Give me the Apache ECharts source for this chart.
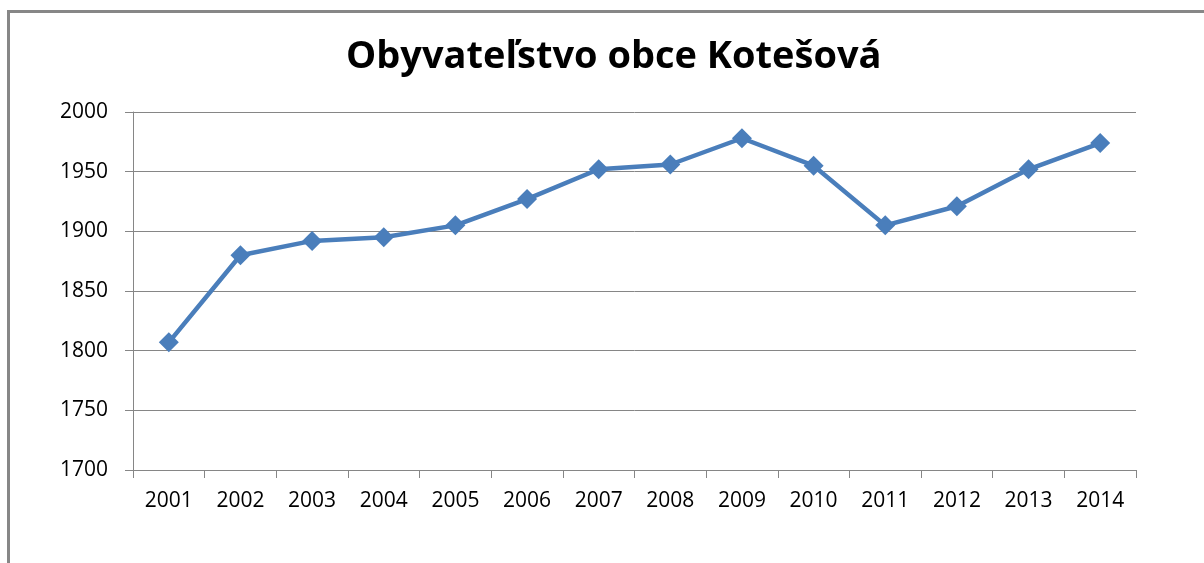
<!DOCTYPE html>
<html>
<head>
<meta charset="utf-8">
<script src="https://cdn.jsdelivr.net/npm/echarts@6/dist/echarts.min.js"></script>
<style>
html,body{margin:0;padding:0;background:#fff;overflow:hidden;}
#chart{width:1204px;height:563px;}
</style>
</head>
<body>
<div id="chart"></div>
<script>
const titleText = "Obyvateľstvo obce Kotešová";
const years = ["2001","2002","2003","2004","2005","2006","2007","2008","2009","2010","2011","2012","2013","2014"];
const population = [1807,1880,1892,1895,1905,1927,1952,1956,1978,1955,1905,1921,1952,1974];
const yMin = 1700, yMax = 2000, yStep = 50;

const chart = echarts.init(document.getElementById('chart'));
chart.setOption({
  backgroundColor: '#ffffff',
  animation: false,
  graphic: [{
    type: 'rect',
    shape: {x: 8.5, y: 11.5, width: 1400, height: 800},
    style: {fill: 'none', stroke: '#878787', lineWidth: 3},
    silent: true
  }],
  title: {
    text: titleText,
    left: 341,
    top: 33,
    textStyle: {fontFamily: 'Open Sans', fontWeight: 'bold', fontSize: 38, color: '#000'}
  },
  grid: {left: 133, right: 68, top: 112, bottom: 93},
  xAxis: {
    type: 'category',
    data: years,
    boundaryGap: true,
    axisLine: {show: true, lineStyle: {color: '#868686', width: 1}},
    axisTick: {show: true, length: 8, alignWithLabel: false, lineStyle: {color: '#868686'}},
    axisLabel: {fontFamily: 'Open Sans', fontSize: 21, color: '#000', margin: 21}
  },
  yAxis: {
    type: 'value',
    min: yMin, max: yMax, interval: yStep,
    axisLine: {show: true, lineStyle: {color: '#868686', width: 1}},
    axisTick: {show: true, length: 8, lineStyle: {color: '#868686'}},
    axisLabel: {fontFamily: 'Open Sans', fontSize: 21, color: '#000', margin: 25, formatter: v => String(v)},
    splitLine: {show: true, lineStyle: {color: '#868686', width: 1}}
  },
  series: [{
    type: 'line',
    data: population,
    symbol: 'diamond',
    symbolSize: 20,
    lineStyle: {color: '#4A7EBB', width: 4.5},
    itemStyle: {color: '#4A7EBB'}
  }]
});
</script>
</body>
</html>
